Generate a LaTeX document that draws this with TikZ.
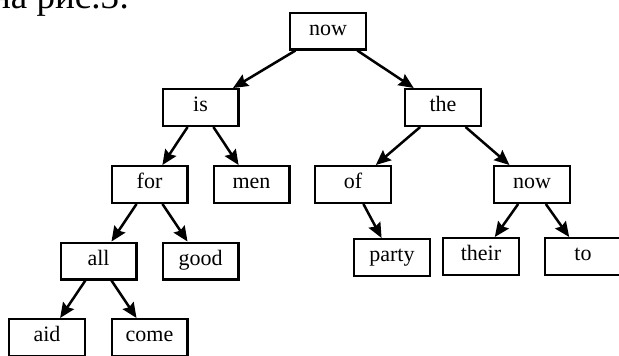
\documentclass[tikz,border=0pt]{standalone}
\usepackage{fontspec}
\setmainfont{Liberation Serif}
\usetikzlibrary{arrows.meta}
\tikzset{
  wbox/.style={draw=black, line width=2.4pt, rectangle, minimum width=75.6pt, minimum height=36.6pt,
    inner sep=0pt, text height=16pt, text depth=8pt, font=\fontsize{22}{25}\selectfont},
  edge/.style={line width=2.5pt, -{Stealth[length=15pt,width=13pt,inset=2pt]}}
}
\begin{document}
\begin{tikzpicture}[x=1pt,y=-1pt]
\useasboundingbox (0,0) rectangle (619,356);
\clip (0,0) rectangle (619,356);
\node[anchor=base west, inner sep=0pt, font=\fontsize{37}{40}\selectfont] (cap) at (-9,9) {на рис.3:};
\node[wbox] (now) at (328,31) {now};
\node[wbox] (is) at (200.5,107.5) {is};
\node[wbox] (the) at (443,107.5) {the};
\node[wbox] (for) at (149.5,184.5) {for};
\node[wbox] (men) at (251.5,184.5) {men};
\node[wbox] (of) at (353,184.5) {of};
\node[wbox] (now2) at (532,184.5) {now};
\node[wbox] (all) at (98.5,261) {all};
\node[wbox] (good) at (200.5,261) {good};
\node[wbox] (party) at (392,257.5) {party};
\node[wbox] (their) at (481,256.5) {their};
\node[wbox] (to) at (583,256.5) {to};
\node[wbox] (aid) at (47,337.5) {aid};
\node[wbox] (come) at (149.5,337.5) {come};
\draw[edge] (now) -- (is);
\draw[edge] (now) -- (the);
\draw[edge] (is) -- (for);
\draw[edge] (is) -- (men);
\draw[edge] (the) -- (of);
\draw[edge] (the) -- (now2);
\draw[edge] (for) -- (all);
\draw[edge] (for) -- (good);
\draw[edge] (of) -- (party);
\draw[edge] (now2) -- (their);
\draw[edge] (now2) -- (to);
\draw[edge] (all) -- (aid);
\draw[edge] (all) -- (come);
\end{tikzpicture}
\end{document}
